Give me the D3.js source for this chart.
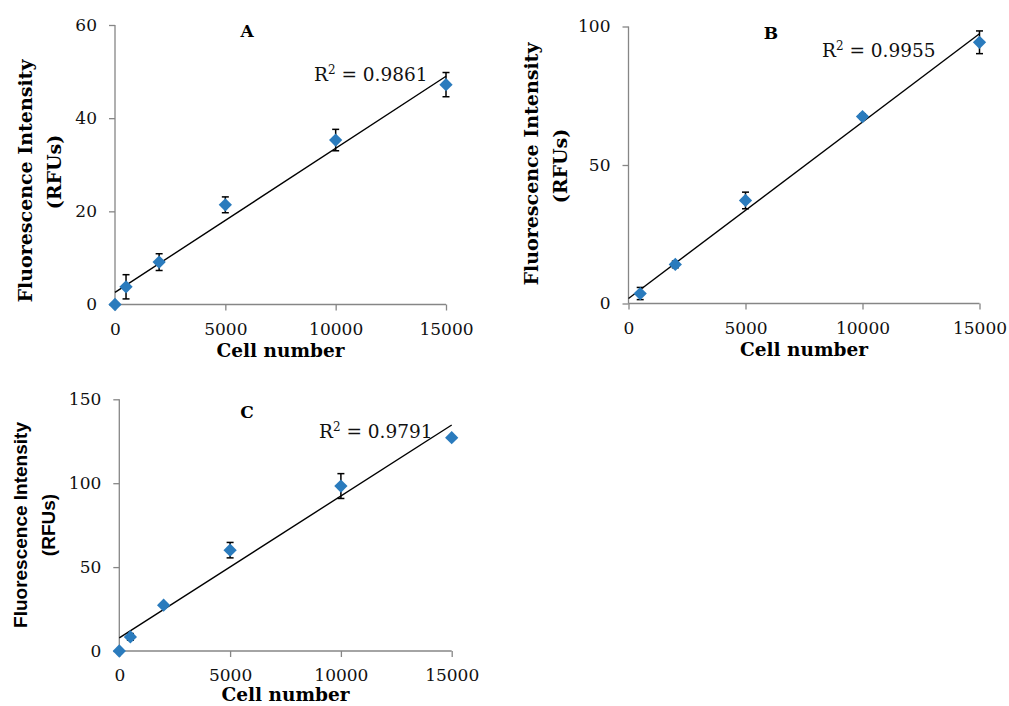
<!DOCTYPE html>
<html>
<head>
<meta charset="utf-8">
<script src="https://cdn.jsdelivr.net/npm/d3@7"></script>
<style>
  body { margin: 0; background: #fff; }
  svg { display: block; }
</style>
</head>
<body>
<script>
// cell counts shared by all three panels
const cellsA = [0, 500, 2000, 5000, 10000, 15000]
const cellsB = [500, 2000, 5000, 10000, 15000]
const cellsC = [0, 500, 2000, 5000, 10000, 15000]

// mean fluorescence (RFUs) and error bar half-widths
const rfuA = [0, 3.8, 9.1, 21.4, 35.3, 47.2]
const errA = [0, 2.6, 1.8, 1.7, 2.3, 2.6]
const rfuB = [3.6, 14.1, 37.2, 67.5, 94.3]
const errB = [2.2, 1.2, 3.0, 1.0, 4.1]
const rfuC = [0, 8.4, 27.3, 60.1, 98.3, 127.1]
const errC = [0, 2.0, 1.0, 4.6, 7.4, 1.0]

// linear trendline values at 0 and 15000 cells
const fitX = [0, 15000]
const fitA = [2.6, 49.0]
const fitB = [1.8, 97.4]
const fitC = [7.8, 134.7]

const r2A = '0.9861'
const r2B = '0.9955'
const r2C = '0.9791'

// tick values
const xTicks = [0, 5000, 10000, 15000]
const yTicksA = [0, 20, 40, 60]
const yTicksB = [0, 50, 100]
const yTicksC = [0, 50, 100, 150]

const W = 1009, H = 706
const axisCol = '#868686'
const markCol = '#2a7bbd'
const serif = '"DejaVu Serif", serif'

const svg = d3.select('body').append('svg')
    .attr('width', W)
    .attr('height', H)
    .style('background', '#fff');

function panel(p) {
    const x = d3.scaleLinear().domain([0, 15000]).range([p.left, p.right]);
    const y = d3.scaleLinear().domain([0, p.yMax]).range([p.bottom, p.top]);
    const g = svg.append('g');

    const xa = g.append('g')
        .attr('transform', `translate(0,${p.bottom})`)
        .call(d3.axisBottom(x).tickValues(xTicks).tickFormat(d3.format('d')).tickSize(6).tickPadding(12));
    const ya = g.append('g')
        .attr('transform', `translate(${p.left},0)`)
        .call(d3.axisLeft(y).tickValues(p.yTicks).tickSize(6).tickPadding(12));

    [xa, ya].forEach(a => {
        a.select('.domain').attr('stroke', axisCol).attr('stroke-width', 1.3);
        a.selectAll('.tick line').attr('stroke', axisCol).attr('stroke-width', 1.3);
        a.selectAll('.tick text')
            .attr('fill', '#111')
            .style('font-family', serif)
            .style('font-size', '17px');
    });
    // no outer tick stubs beyond the axis line
    xa.select('.domain').attr('d', `M${p.left},0H${p.right}`);
    ya.select('.domain').attr('d', `M0,${p.top}V${p.bottom}`);

    // trendline
    g.append('line')
        .attr('x1', x(fitX[0])).attr('y1', y(p.fit[0]))
        .attr('x2', x(fitX[1])).attr('y2', y(p.fit[1]))
        .attr('stroke', '#000')
        .attr('stroke-width', 1.4);

    const pts = p.cells.map((c, i) => ({ c: c, v: p.rfu[i], e: p.err[i] }));

    // error bars
    const eb = g.selectAll('g.err')
        .data(pts.filter(d => d.e > 0))
        .enter()
        .append('g')
        .attr('stroke', '#000')
        .attr('stroke-width', 1.5);
    eb.append('line')
        .attr('x1', d => x(d.c)).attr('x2', d => x(d.c))
        .attr('y1', d => y(d.v - d.e)).attr('y2', d => y(d.v + d.e));
    eb.append('line')
        .attr('x1', d => x(d.c) - 3.5).attr('x2', d => x(d.c) + 3.5)
        .attr('y1', d => y(d.v + d.e)).attr('y2', d => y(d.v + d.e));
    eb.append('line')
        .attr('x1', d => x(d.c) - 3.5).attr('x2', d => x(d.c) + 3.5)
        .attr('y1', d => y(d.v - d.e)).attr('y2', d => y(d.v - d.e));

    // diamond markers
    g.selectAll('path.pt')
        .data(pts)
        .enter()
        .append('path')
        .attr('class', 'pt')
        .attr('d', d3.symbol(d3.symbolSquare, 88))
        .attr('transform', d => `translate(${x(d.c)},${y(d.v)}) rotate(45)`)
        .attr('fill', markCol);

    // panel letter
    g.append('text')
        .attr('x', p.letterX).attr('y', p.letterY)
        .attr('text-anchor', 'middle')
        .style('font-family', serif)
        .style('font-weight', 'bold')
        .style('font-size', '17px')
        .text(p.letter);

    // R squared
    const r = g.append('text')
        .attr('x', p.r2X).attr('y', p.r2Y)
        .style('font-family', serif)
        .style('font-size', '18.5px')
        .attr('fill', '#111');
    r.append('tspan').text('R');
    r.append('tspan').attr('dy', -7).style('font-size', '12px').text('2');
    r.append('tspan').attr('dy', 7).text(' = ' + p.r2);

    // axis titles
    g.append('text')
        .attr('x', (p.left + p.right) / 2)
        .attr('y', p.bottom + p.xtDy)
        .attr('text-anchor', 'middle')
        .style('font-family', serif)
        .style('font-weight', 'bold')
        .style('font-size', '18.5px')
        .text('Cell number');

    const yt = g.append('text')
        .attr('transform', 'rotate(-90)')
        .attr('text-anchor', 'middle')
        .style('font-family', p.titleFont)
        .style('font-weight', 'bold')
        .style('font-size', p.titleSize);
    yt.append('tspan')
        .attr('x', -p.t1Y).attr('y', p.t1X)
        .text('Fluorescence Intensity');
    yt.append('tspan')
        .attr('x', -p.t2Y).attr('y', p.t2X)
        .text('(RFUs)');
}

panel({
    cells: cellsA, rfu: rfuA, err: errA, fit: fitA, r2: r2A, yTicks: yTicksA, yMax: 60,
    left: 115, right: 446, top: 25, bottom: 304.5, xtDy: 52,
    letter: 'A', letterX: 247, letterY: 37, r2X: 314, r2Y: 81,
    titleFont: serif, titleSize: '19px', t1X: 32, t1Y: 181, t2X: 61, t2Y: 172
});
panel({
    cells: cellsB, rfu: rfuB, err: errB, fit: fitB, r2: r2B, yTicks: yTicksB, yMax: 100,
    left: 628.5, right: 979.5, top: 26.5, bottom: 303.5, xtDy: 52,
    letter: 'B', letterX: 771, letterY: 39, r2X: 822, r2Y: 57,
    titleFont: serif, titleSize: '19px', t1X: 538, t1Y: 164, t2X: 567, t2Y: 166
});
panel({
    cells: cellsC, rfu: rfuC, err: errC, fit: fitC, r2: r2C, yTicks: yTicksC, yMax: 150,
    left: 119.3, right: 451.7, top: 399.3, bottom: 651, xtDy: 50,
    letter: 'C', letterX: 247, letterY: 418, r2X: 319, r2Y: 438,
    titleFont: '"Liberation Sans", Arial, sans-serif', titleSize: '19px', t1X: 27, t1Y: 525, t2X: 55, t2Y: 525
});
</script>
</body>
</html>
